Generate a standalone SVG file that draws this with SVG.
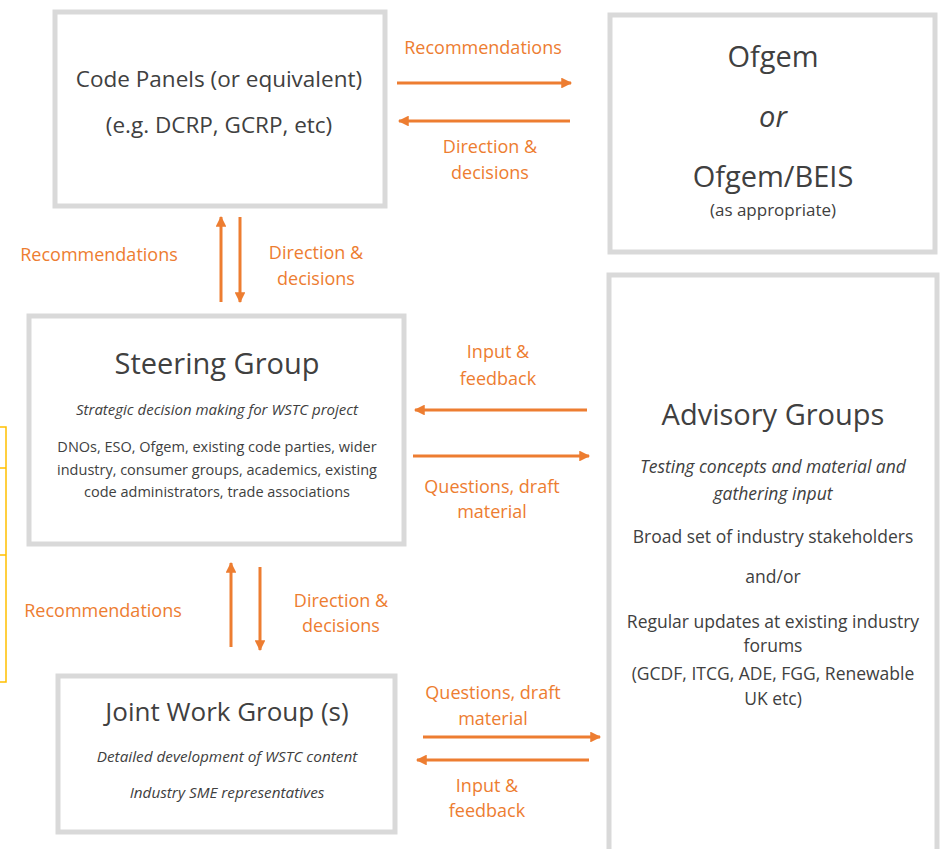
<svg xmlns="http://www.w3.org/2000/svg" width="941" height="849" viewBox="0 0 941 849">
<style>
.box{fill:#fff;stroke:#d9d9d9;stroke-width:5}
.t{font-family:"Open Sans","Liberation Sans",sans-serif;fill:#404040;text-anchor:middle}
.i{font-style:italic}
.lbl{font-family:"Open Sans","Liberation Sans",sans-serif;fill:#ed7d31;text-anchor:middle;font-size:18px}
.arr{stroke:#ed7d31;stroke-width:3;fill:none;marker-end:url(#ah)}
.yl{stroke:#ffc000;stroke-width:1.5;fill:none}
</style>
<defs>
<marker id="ah" viewBox="0 0 10 10" refX="9" refY="5" markerWidth="4" markerHeight="3.6" orient="auto" markerUnits="strokeWidth">
<path d="M0,0 L10,5 L0,10 Z" fill="#ed7d31"/>
</marker>
</defs>
<rect width="941" height="849" fill="#fff"/>
<g id="yellow-edge">
<path class="yl" d="M0 427 H6 V682 H0 M0 468 H6 M0 555 H6"/>
</g>
<g id="code-panels">
<rect class="box" x="55" y="12" width="330" height="194"/>
<text class="t" x="219" y="87" font-size="22.5">Code Panels (or equivalent)</text>
<text class="t" x="219" y="133" font-size="22.5">(e.g. DCRP, GCRP, etc)</text>
</g>
<g id="ofgem">
<rect class="box" x="610" y="15" width="325" height="237"/>
<text class="t" x="773" y="67" font-size="29">Ofgem</text>
<text class="t i" x="773" y="127" font-size="29">or</text>
<text class="t" x="773" y="187" font-size="29">Ofgem/BEIS</text>
<text class="t" x="773" y="216" font-size="17">(as appropriate)</text>
</g>
<g id="steering-group">
<rect class="box" x="29" y="316" width="375" height="228"/>
<text class="t" x="217" y="374" font-size="29">Steering Group</text>
<text class="t i" x="217" y="415" font-size="15">Strategic decision making for WSTC project</text>
<text class="t" x="217" y="452" font-size="14.5">DNOs, ESO, Ofgem, existing code parties, wider</text>
<text class="t" x="217" y="475" font-size="14.5">industry, consumer groups, academics, existing</text>
<text class="t" x="217" y="497" font-size="14.5">code administrators, trade associations</text>
</g>
<g id="advisory-groups">
<rect class="box" x="609" y="275" width="328" height="600"/>
<text class="t" x="773" y="425" font-size="29">Advisory Groups</text>
<text class="t i" x="773" y="473" font-size="17.5">Testing concepts and material and</text>
<text class="t i" x="773" y="500" font-size="17.5">gathering input</text>
<text class="t" x="773" y="543" font-size="17.5">Broad set of industry stakeholders</text>
<text class="t" x="773" y="583" font-size="17.5">and/or</text>
<text class="t" x="773" y="628" font-size="17.5">Regular updates at existing industry</text>
<text class="t" x="773" y="652" font-size="17.5">forums</text>
<text class="t" x="773" y="680" font-size="17.5">(GCDF, ITCG, ADE, FGG, Renewable</text>
<text class="t" x="773" y="705" font-size="17.5">UK etc)</text>
</g>
<g id="joint-work-group">
<rect class="box" x="58" y="676" width="337" height="156"/>
<text class="t" x="227" y="721" font-size="26">Joint Work Group (s)</text>
<text class="t i" x="227" y="762" font-size="15.3">Detailed development of WSTC content</text>
<text class="t i" x="227" y="798" font-size="15.3">Industry SME representatives</text>
</g>
<g id="connectors">
<line class="arr" x1="397" y1="83" x2="571" y2="83"/>
<line class="arr" x1="570" y1="121" x2="399" y2="121"/>
<line class="arr" x1="221" y1="302" x2="221" y2="217"/>
<line class="arr" x1="240" y1="217" x2="240" y2="302"/>
<line class="arr" x1="587" y1="410" x2="415" y2="410"/>
<line class="arr" x1="413" y1="456" x2="589" y2="456"/>
<line class="arr" x1="231" y1="647" x2="231" y2="563"/>
<line class="arr" x1="260" y1="567" x2="260" y2="650"/>
<line class="arr" x1="423" y1="737" x2="600" y2="737"/>
<line class="arr" x1="589" y1="760" x2="417" y2="760"/>
<text class="lbl" x="483" y="54">Recommendations</text>
<text class="lbl" x="490" y="153">Direction &amp;</text>
<text class="lbl" x="490" y="179">decisions</text>
<text class="lbl" x="99" y="261">Recommendations</text>
<text class="lbl" x="316" y="259">Direction &amp;</text>
<text class="lbl" x="316" y="285">decisions</text>
<text class="lbl" x="498" y="358">Input &amp;</text>
<text class="lbl" x="498" y="385">feedback</text>
<text class="lbl" x="492" y="493">Questions, draft</text>
<text class="lbl" x="492" y="518">material</text>
<text class="lbl" x="103" y="617">Recommendations</text>
<text class="lbl" x="341" y="607">Direction &amp;</text>
<text class="lbl" x="341" y="632">decisions</text>
<text class="lbl" x="493" y="699">Questions, draft</text>
<text class="lbl" x="493" y="725">material</text>
<text class="lbl" x="487" y="792">Input &amp;</text>
<text class="lbl" x="487" y="817">feedback</text>
</g>
</svg>
